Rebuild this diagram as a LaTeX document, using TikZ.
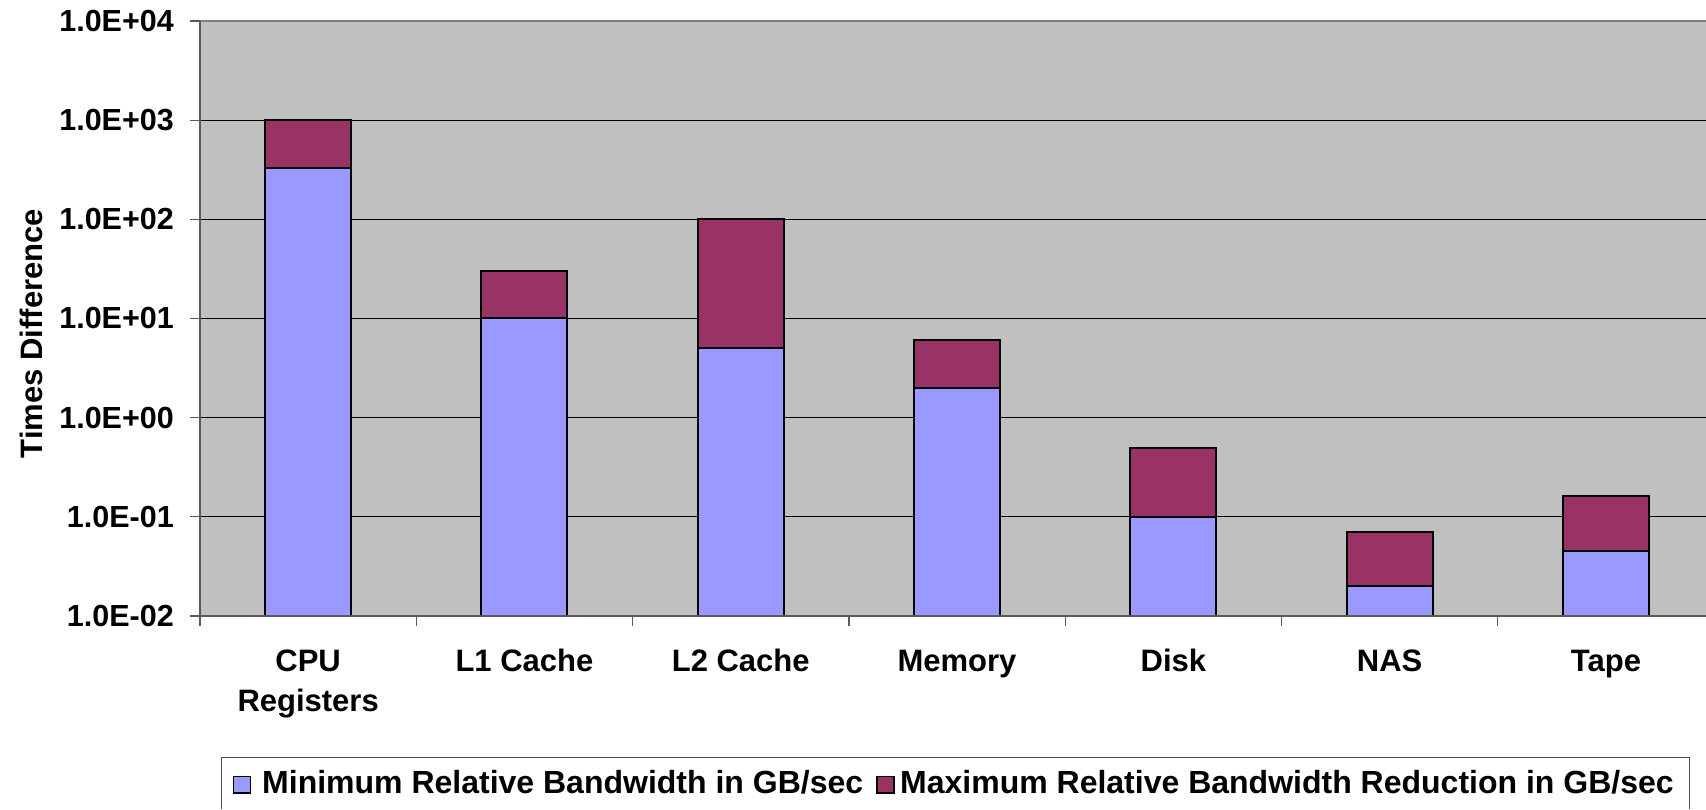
\documentclass[tikz,border=0pt]{standalone}
\usepackage{fontspec}
\setmainfont{Liberation Sans}
\definecolor{plotbg}{HTML}{C0C0C0}
\definecolor{minblue}{HTML}{9999FF}
\definecolor{maxred}{HTML}{993366}
\definecolor{axisgray}{HTML}{808080}
\tikzset{
  lbl/.style={inner sep=0pt, font=\fontsize{31}{37}\selectfont\bfseries},
  ticklbl/.style={inner sep=0pt, anchor=east, font=\fontsize{30.5}{36}\selectfont\bfseries},
  legtxt/.style={inner sep=0pt, anchor=base west, font=\fontsize{32}{37}\selectfont\bfseries},
  barmin/.style={fill=minblue, draw=black, line width=2pt},
  barmax/.style={fill=maxred, draw=black, line width=2pt},
  grid line/.style={draw=black, line width=1pt},
  axis line/.style={draw=axisgray!70!black, line width=1.3pt},
}
\pgfmathdeclarefunction{ly}{1}{\pgfmathparse{616-99.17*(log10(#1)+2)}}
\begin{document}
\begin{tikzpicture}[x=1pt, y=-1pt]
\useasboundingbox (0,0) rectangle (1706,809);
% plot area
\fill[plotbg] (200,21) rectangle (1706,616);
% grid lines and y ticks
\foreach \k in {1,...,5} {
  \draw[grid line] (200,{616-99.17*\k}) -- (1706,{616-99.17*\k});
}
\draw[axisgray, line width=1.3pt] (200,21) -- (1706,21);
\foreach \k in {0,...,6} {
  \draw[axis line] (190,{616-99.17*\k}) -- (200,{616-99.17*\k});
}
% y tick labels
\node[ticklbl] (t0) at (174,616) {1.0E-02};
\node[ticklbl] (t1) at (174,{616-99.17}) {1.0E-01};
\node[ticklbl] (t2) at (174,{616-99.17*2}) {1.0E+00};
\node[ticklbl] (t3) at (174,{616-99.17*3}) {1.0E+01};
\node[ticklbl] (t4) at (174,{616-99.17*4}) {1.0E+02};
\node[ticklbl] (t5) at (174,{616-99.17*5}) {1.0E+03};
\node[ticklbl] (t6) at (174,21) {1.0E+04};
% y title
\node[lbl, rotate=90, anchor=base] (ytitle) at (42,333.5) {Times Difference};
% bars: center = 200 + (i+0.5)*216.3, half width 43
\foreach \i/\vmin/\vmax in {0/333/1000, 1/10/30, 2/5/100, 3/2/6, 4/0.1/0.5, 5/0.02/0.07, 6/0.045/0.16} {
  \pgfmathsetmacro{\xc}{200+(\i+0.5)*216.3}
  \pgfmathsetmacro{\ya}{ly(\vmin)}
  \pgfmathsetmacro{\yb}{ly(\vmax)}
  \draw[barmax] ({\xc-43},\ya) rectangle ({\xc+43},\yb);
  \draw[barmin] ({\xc-43},616) rectangle ({\xc+43},\ya);
}
% axes
\draw[axis line] (200,21) -- (200,616);
\draw[axis line] (200,616) -- (1706,616);
\foreach \i in {0,...,7} {
  \draw[axis line] ({200+\i*216.3},616) -- ({200+\i*216.3},626);
}
% x labels
\node[lbl, anchor=base] (cpu) at ({200+0.5*216.3},671.7) {CPU};
\node[lbl, anchor=base] (reg) at ({200+0.5*216.3},711.7) {Registers};
\node[lbl, anchor=base] (l1) at ({200+1.5*216.3},671.7) {L1 Cache};
\node[lbl, anchor=base] (l2) at ({200+2.5*216.3},671.7) {L2 Cache};
\node[lbl, anchor=base] (mem) at ({200+3.5*216.3},671.7) {Memory};
\node[lbl, anchor=base] (disk) at ({200+4.5*216.3},671.7) {Disk};
\node[lbl, anchor=base] (nas) at ({200+5.5*216.3},671.7) {NAS};
\node[lbl, anchor=base] (tape) at ({200+6.5*216.3},671.7) {Tape};
% legend
\draw[axisgray!60!black, line width=1pt] (221.3,809) -- (221.3,757.3) -- (1689.3,757.3) -- (1689.3,809);
\draw[fill=minblue, draw=black, line width=1.5pt] (233.5,776.5) rectangle (250.5,793);
\node[legtxt] (leg1) at (262,793) {Minimum Relative Bandwidth in GB/sec};
\draw[fill=maxred, draw=black, line width=1.5pt] (877,776.5) rectangle (894,793);
\node[legtxt] (leg2) at (900,793) {Maximum Relative Bandwidth Reduction in GB/sec};
\end{tikzpicture}
\end{document}
